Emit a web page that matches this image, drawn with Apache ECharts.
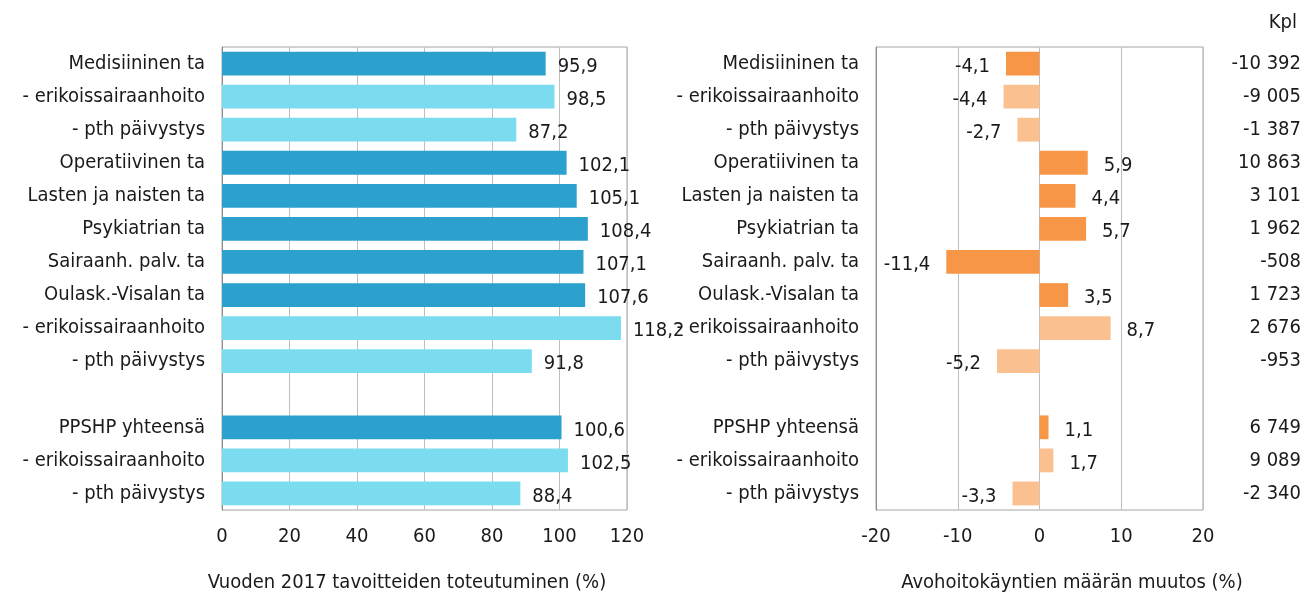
<!DOCTYPE html>
<html>
<head>
<meta charset="utf-8">
<script src="https://cdn.jsdelivr.net/npm/echarts@6/dist/echarts.min.js"></script>
<style>
    html, body { margin: 0; padding: 0; background: #fff; }
    #chart { width: 1310px; height: 595px; }
</style>
</head>
<body>
<div id="chart"></div>
<script>
let categories = ['Medisiininen ta', '- erikoissairaanhoito', '- pth päivystys', 'Operatiivinen ta', 'Lasten ja naisten ta', 'Psykiatrian ta', 'Sairaanh. palv. ta', 'Oulask.-Visalan ta', '- erikoissairaanhoito', '- pth päivystys', '', 'PPSHP yhteensä', '- erikoissairaanhoito', '- pth päivystys'];
let toteutuminen = [95.9, 98.5, 87.2, 102.1, 105.1, 108.4, 107.1, 107.6, 118.2, 91.8, null, 100.6, 102.5, 88.4];
let muutos = [-4.1, -4.4, -2.7, 5.9, 4.4, 5.7, -11.4, 3.5, 8.7, -5.2, null, 1.1, 1.7, -3.3];
let kpl = [-10392, -9005, -1387, 10863, 3101, 1962, -508, 1723, 2676, -953, null, 6749, 9089, -2340];
let leftTicks = [0, 120, 20];
let rightTicks = [-20, 20, 10];

let font = '"Liberation Sans Narrow", "DejaVu Sans Condensed", sans-serif';
let textColor = '#1a1a1a';
let gridColor = '#BFBFBF';

let fmt = function (v) {
    return String(v).replace('.', ',');
};
let fmtKpl = function (v) {
    if (v === null) return '';
    let s = String(Math.abs(v)).replace(/\B(?=(\d{3})+(?!\d))/g, ' ');
    return (v < 0 ? '-' : '') + s;
};
let isSub = function (i) {
    return categories[i].indexOf('- ') === 0;
};

let leftData = toteutuminen.map(function (v, i) {
    return {
        value: v,
        itemStyle: { color: isSub(i) ? '#7ADCEE' : '#2CA1CE' }
    };
});
let rightData = muutos.map(function (v, i) {
    return {
        value: v,
        itemStyle: { color: isSub(i) ? '#FAC090' : '#F79646' },
        label: { position: v < 0 ? 'left' : 'right' }
    };
});

let catAxis = function (gridIndex) {
    return {
        type: 'category',
        gridIndex: gridIndex,
        inverse: true,
        data: categories,
        axisLine: { show: true, onZero: false, lineStyle: { color: '#8c8c8c' } },
        axisTick: { show: false },
        axisLabel: { color: textColor, fontFamily: font, fontSize: 20, margin: 17 }
    };
};
let valAxis = function (gridIndex, ticks) {
    return {
        type: 'value',
        gridIndex: gridIndex,
        min: ticks[0],
        max: ticks[1],
        interval: ticks[2],
        axisLine: { show: false },
        axisTick: { show: false },
        splitLine: { show: true, lineStyle: { color: gridColor } },
        axisLabel: { color: textColor, fontFamily: font, fontSize: 20, margin: 17 }
    };
};
let barLabel = function (dist) {
    return {
        show: true,
        position: 'right',
        distance: dist,
        offset: [0, 3],
        color: textColor,
        fontFamily: font,
        fontSize: 20,
        formatter: function (p) {
            return fmt(p.value);
        }
    };
};

let option = {
    animation: false,
    backgroundColor: '#fff',
    title: [
        {
            text: 'Vuoden 2017 tavoitteiden toteutuminen (%)',
            left: 402, top: 568, textAlign: 'center',
            textStyle: { color: textColor, fontFamily: font, fontSize: 20, fontWeight: 'normal' }
        },
        {
            text: 'Avohoitokäyntien määrän muutos (%)',
            left: 1067, top: 568, textAlign: 'center',
            textStyle: { color: textColor, fontFamily: font, fontSize: 20, fontWeight: 'normal' }
        },
        {
            text: 'Kpl',
            right: 8, top: 8,
            textStyle: { color: textColor, fontFamily: font, fontSize: 20, fontWeight: 'normal' }
        }
    ],
    grid: [
        { left: 222, right: 683, top: 47, height: 463, show: true, borderColor: '#A6A6A6', borderWidth: 1 },
        { left: 876, right: 107, top: 47, height: 463, show: true, borderColor: '#A6A6A6', borderWidth: 1 }
    ],
    xAxis: [valAxis(0, leftTicks), valAxis(1, rightTicks)],
    yAxis: [
        catAxis(0),
        catAxis(1),
        {
            type: 'category',
            gridIndex: 1,
            position: 'right',
            inverse: true,
            data: kpl.map(fmtKpl),
            axisLine: { show: false },
            axisTick: { show: false },
            axisLabel: { color: textColor, fontFamily: font, fontSize: 20, margin: 98, align: 'right' }
        }
    ],
    series: [
        {
            type: 'bar',
            xAxisIndex: 0,
            yAxisIndex: 0,
            barWidth: '72%',
            data: leftData,
            label: barLabel(12)
        },
        {
            type: 'bar',
            xAxisIndex: 1,
            yAxisIndex: 1,
            barWidth: '72%',
            data: rightData,
            label: barLabel(16)
        }
    ]
};

let chart = echarts.init(document.getElementById('chart'));
chart.setOption(option);
</script>
</body>
</html>
